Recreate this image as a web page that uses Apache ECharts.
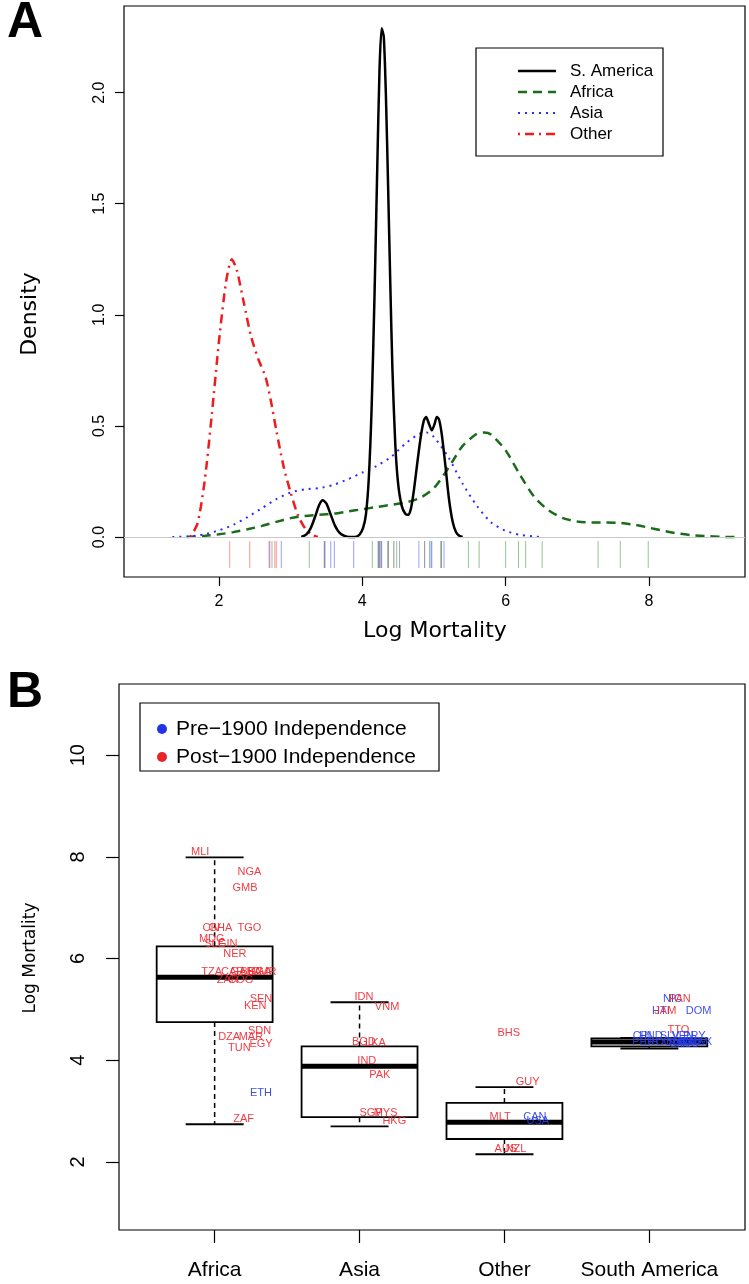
<!DOCTYPE html>
<html><head><meta charset="utf-8">
<script src="https://cdn.jsdelivr.net/npm/echarts@6/dist/echarts.min.js"></script>
<style>html,body{margin:0;padding:0;background:#fff}#c{width:749px;height:1284px}</style>
</head><body><div id="c"></div>
<script>
// ---------- Panel A: density curves (x = log mortality, y = density) ----------
const densSAm = [[3.15,0],[3.22,0.012],[3.28,0.04],[3.34,0.09],[3.40,0.145],[3.45,0.165],[3.50,0.15],[3.56,0.10],[3.62,0.05],[3.68,0.02],[3.75,0.005],[3.82,0.0],[3.90,0.0],[3.96,0.01],[4.01,0.04],[4.05,0.10],[4.09,0.26],[4.13,0.58],[4.17,1.08],[4.21,1.68],[4.24,2.10],[4.27,2.29],[4.30,2.25],[4.33,1.98],[4.36,1.58],[4.39,1.15],[4.42,0.76],[4.46,0.42],[4.50,0.24],[4.55,0.14],[4.60,0.105],[4.64,0.10],[4.68,0.13],[4.72,0.21],[4.77,0.34],[4.82,0.46],[4.86,0.525],[4.89,0.54],[4.93,0.51],[4.97,0.48],[5.01,0.51],[5.04,0.54],[5.07,0.53],[5.11,0.46],[5.16,0.32],[5.21,0.17],[5.26,0.07],[5.31,0.02],[5.36,0.004],[5.40,0]];
const densAfrica = [[1.55,0],[1.8,0.005],[2.0,0.012],[2.2,0.022],[2.4,0.035],[2.6,0.05],[2.8,0.068],[3.0,0.085],[3.2,0.095],[3.4,0.10],[3.6,0.105],[3.8,0.115],[4.0,0.125],[4.2,0.135],[4.4,0.145],[4.6,0.155],[4.8,0.175],[5.0,0.22],[5.2,0.31],[5.4,0.41],[5.6,0.465],[5.7,0.47],[5.8,0.46],[6.0,0.39],[6.2,0.28],[6.4,0.18],[6.6,0.12],[6.8,0.085],[7.0,0.07],[7.2,0.065],[7.4,0.065],[7.6,0.063],[7.8,0.055],[8.0,0.042],[8.2,0.028],[8.4,0.016],[8.6,0.008],[8.8,0.004],[9.0,0.001],[9.2,0]];
const densAsia = [[1.35,0],[1.6,0.003],[1.8,0.012],[2.0,0.03],[2.2,0.055],[2.4,0.09],[2.6,0.13],[2.8,0.17],[3.0,0.20],[3.2,0.215],[3.4,0.22],[3.6,0.235],[3.8,0.26],[4.0,0.29],[4.2,0.32],[4.4,0.36],[4.6,0.42],[4.8,0.465],[4.9,0.47],[5.0,0.45],[5.2,0.36],[5.4,0.24],[5.6,0.14],[5.8,0.065],[6.0,0.028],[6.2,0.01],[6.4,0.002],[6.5,0]];
const densOther = [[1.6,0],[1.7,0.06],[1.8,0.25],[1.9,0.55],[2.0,0.88],[2.1,1.15],[2.18,1.25],[2.25,1.20],[2.35,1.05],[2.45,0.90],[2.55,0.80],[2.65,0.72],[2.72,0.62],[2.8,0.48],[2.9,0.32],[3.0,0.20],[3.1,0.10],[3.2,0.04],[3.3,0.01],[3.38,0]];

// rug values under the density curves
const rugSAm = [3.47,4.23,4.26,4.36,4.44,4.87,5.10];
const rugAfrica = [2.74,3.26,4.14,4.22,4.36,4.48,4.96,5.10,5.48,5.63,6.00,6.18,6.28,6.51,7.29,7.60,7.99];
const rugAsia = [2.70,2.87,3.48,3.56,3.61,3.88,4.24,4.27,4.52,4.79,4.94,4.97,5.14];
const rugOther = [2.15,2.43,2.71,2.78,2.80];

const densNames = ['S. America','Africa','Asia','Other'];
const xTicksA = [2,4,6,8];
const yTicksA = [0,0.5,1.0,1.5,2.0];

// ---------- Panel B: boxplots ----------
const boxCats = ['Africa','Asia','Other','South America'];
// [min, Q1, median, Q3, max]
const statAfrica = [2.74,4.75,5.63,6.24,7.99];
const statAsia = [2.70,2.88,3.88,4.27,5.14];
const statOther = [2.15,2.45,2.78,3.16,3.47];
const statSAm = [4.23,4.27,4.36,4.43,4.44];
const yTicksB = [2,4,6,8,10];

// country labels: code, group index, horizontal jitter (category units), log mortality, pre-1900 independence
const labCode   = ['MLI','NGA','GMB','CIV','GHA','TGO','MDG','SLE','GIN','NER','TZA','CAF','GAB','BFA','UGA','CMR','ZAR','COG','SEN','KEN','SDN','DZA','MAR','EGY','TUN','ETH','ZAF',
                   'IDN','VNM','BGD','LKA','IND','PAK','SGP','MYS','HKG',
                   'BHS','GUY','MLT','CAN','USA','AUS','NZL',
                   'NIC','PAN','HTI','JAM','DOM','TTO','CRI','HND','SLV','VEN','PRY','PER','URY','COL','BOL','BRA','ECU','GTM','MEX','ARG','CHL'];
const labGroup  = [0,0,0,0,0,0,0,0,0,0,0,0,0,0,0,0,0,0,0,0,0,0,0,0,0,0,0,
                   1,1,1,1,1,1,1,1,1,
                   2,2,2,2,2,2,2,
                   3,3,3,3,3,3,3,3,3,3,3,3,3,3,3,3,3,3,3,3,3];
const labJitter = [-0.10,0.24,0.21,-0.02,0.04,0.24,-0.02,0.0,0.09,0.14,-0.02,0.12,0.19,0.25,0.31,0.34,0.09,0.18,0.32,0.28,0.31,0.10,0.25,0.32,0.17,0.32,0.20,
                   0.03,0.19,0.03,0.11,0.05,0.14,0.08,0.18,0.24,
                   0.03,0.16,-0.03,0.21,0.23,0.01,0.08,
                   0.16,0.21,0.08,0.11,0.34,0.20,-0.05,0.01,0.14,0.23,0.31,-0.04,0.04,0.12,0.19,0.24,0.28,0.32,0.35,0.26,0.21];
const labValue  = [7.99,7.60,7.29,6.51,6.51,6.51,6.28,6.18,6.18,6.00,5.63,5.63,5.63,5.63,5.63,5.63,5.48,5.48,5.10,4.96,4.48,4.36,4.36,4.22,4.14,3.26,2.74,
                   5.14,4.94,4.27,4.24,3.88,3.61,2.87,2.87,2.70,
                   4.44,3.47,2.79,2.78,2.71,2.15,2.15,
                   5.10,5.10,4.87,4.87,4.87,4.50,4.38,4.38,4.38,4.38,4.38,4.26,4.26,4.26,4.26,4.26,4.26,4.26,4.26,4.23,4.23];
const labPre1900 = [0,0,0,0,0,0,0,0,0,0,0,0,0,0,0,0,0,0,0,0,0,0,0,0,0,1,0,
                    0,0,0,0,0,0,0,0,0,
                    0,0,0,1,1,0,0,
                    1,0,1,0,1,0,1,1,1,1,1,1,1,1,1,1,1,1,1,1,1];
const legendB = ['Pre\u22121900 Independence','Post\u22121900 Independence'];

// ---------- styles ----------
const FONT = 'Liberation Sans, Arial, sans-serif';
const TFONT = 'DejaVu Sans, sans-serif';
const colSAm = '#000000', colAfr = '#1a6b1a', colAsia = '#2a2aff', colOth = '#ee1c1c';
const colRed = 'rgba(238,40,48,0.9)', colBlue = 'rgba(40,60,235,0.9)';

const chart = echarts.init(document.getElementById('c'), null, {renderer:'canvas'});

function rugSeries(vals, color){
  return {type:'custom', xAxisIndex:0, yAxisIndex:0, silent:true, z:1,
    data: vals.map(v=>[v,0]), encode:{x:0,y:1},
    renderItem:(p,api)=>{const c=api.coord([api.value(0),0]);
      return {type:'line', shape:{x1:c[0],y1:c[1]+4,x2:c[0],y2:c[1]+31}, style:{stroke:color,lineWidth:1,opacity:0.5}};}};
}
function lineSeries(name,data,color,width,dash){
  return {name, type:'line', xAxisIndex:0, yAxisIndex:0, data, showSymbol:false, symbol:'none', smooth:0.25, z:3,
    lineStyle:{color, width, type:dash}};
}
function renderBox(params, api){
  const x=api.value(0), mn=api.value(1), q1=api.value(2), md=api.value(3), q3=api.value(4), mx=api.value(5);
  const hw=api.size([0.4,0])[0], cw=api.size([0.2,0])[0];
  const pMn=api.coord([x,mn]), pQ1=api.coord([x,q1]), pMd=api.coord([x,md]), pQ3=api.coord([x,q3]), pMx=api.coord([x,mx]);
  const cx=pMd[0];
  const st={stroke:'#000',lineWidth:1.8,fill:null};
  const ds={stroke:'#000',lineWidth:1.5,lineDash:[5,4],fill:null};
  return {type:'group', children:[
    {type:'line', shape:{x1:cx,y1:pQ3[1],x2:cx,y2:pMx[1]}, style:ds},
    {type:'line', shape:{x1:cx,y1:pQ1[1],x2:cx,y2:pMn[1]}, style:ds},
    {type:'line', shape:{x1:cx-cw,y1:pMx[1],x2:cx+cw,y2:pMx[1]}, style:st},
    {type:'line', shape:{x1:cx-cw,y1:pMn[1],x2:cx+cw,y2:pMn[1]}, style:st},
    {type:'rect', shape:{x:cx-hw,y:pQ3[1],width:2*hw,height:pQ1[1]-pQ3[1]}, style:{stroke:'#000',lineWidth:1.8,fill:null}},
    {type:'line', shape:{x1:cx-hw,y1:pMd[1],x2:cx+hw,y2:pMd[1]}, style:{stroke:'#000',lineWidth:5}}
  ]};
}

const stats = [statAfrica, statAsia, statOther, statSAm];

const option = {
  backgroundColor:'#fff',
  animation:false,
  grid:[
    {left:124, top:6, width:621, height:571, show:true, borderColor:'#000', borderWidth:1.2, backgroundColor:'transparent'},
    {left:119, top:684, width:626, height:546, show:true, borderColor:'#000', borderWidth:1.2, backgroundColor:'transparent'}
  ],
  xAxis:[
    {type:'value', gridIndex:0, position:'bottom', min:0.675, max:9.34, axisLine:{show:false, onZero:false}, splitLine:{show:false},
     axisTick:{show:true, length:9, lineStyle:{color:'#000',width:1.2}, customValues:xTicksA},
     axisLabel:{show:true, margin:17, fontSize:16, color:'#000', fontFamily:FONT, customValues:xTicksA, formatter:v=>String(v)}},
    {type:'value', gridIndex:1, position:'bottom', min:0.34, max:4.66, axisLine:{show:false, onZero:false}, splitLine:{show:false},
     axisTick:{show:true, length:13, lineStyle:{color:'#000',width:1.2}, customValues:[1,2,3,4]},
     axisLabel:{show:true, margin:30, fontSize:21, color:'#000', fontFamily:FONT, customValues:[1,2,3,4], formatter:v=>boxCats[Math.round(v)-1]}}
  ],
  yAxis:[
    {type:'value', gridIndex:0, position:'left', min:-0.18, max:2.39, axisLine:{show:false, onZero:false}, splitLine:{show:false},
     axisTick:{show:true, length:9, lineStyle:{color:'#000',width:1.2}, customValues:yTicksA},
     axisLabel:{show:true, rotate:90, margin:16, fontSize:16, color:'#000', fontFamily:FONT, customValues:yTicksA, formatter:v=>v.toFixed(1)}},
    {type:'value', gridIndex:1, position:'left', min:0.66, max:11.4, axisLine:{show:false, onZero:false}, splitLine:{show:false},
     axisTick:{show:true, length:13, lineStyle:{color:'#000',width:1.2}, customValues:yTicksB},
     axisLabel:{show:true, rotate:90, margin:31, fontSize:20, color:'#000', fontFamily:FONT, customValues:yTicksB, formatter:v=>String(v)}}
  ],
  series:[
    {type:'line', xAxisIndex:0, yAxisIndex:0, data:[], silent:true, z:1,
     markLine:{silent:true, symbol:'none', label:{show:false}, lineStyle:{color:'#c8c8c8', width:1, type:'solid'}, data:[{yAxis:0}]}},
    rugSeries(rugAfrica, '#2e8b2e'),
    rugSeries(rugAsia, '#3344ff'),
    rugSeries(rugOther, '#ff3030'),
    rugSeries(rugSAm, '#222222'),
    lineSeries(densNames[1], densAfrica, colAfr, 2.5, [9,6]),
    lineSeries(densNames[2], densAsia, colAsia, 2, [2,5]),
    lineSeries(densNames[3], densOther, colOth, 2.5, [2,5,9,5]),
    lineSeries(densNames[0], densSAm, colSAm, 2.5, 'solid'),
    {type:'custom', xAxisIndex:1, yAxisIndex:1, silent:true, z:2,
     data: stats.map((s,i)=>[i+1, ...s]), encode:{x:0, y:[1,2,3,4,5]}, renderItem:renderBox},
    {type:'custom', xAxisIndex:1, yAxisIndex:1, silent:true, z:5,
     data: labValue.map((v,i)=>[labGroup[i]+1+labJitter[i], v]), encode:{x:0,y:1},
     renderItem:(p,api)=>{const c=api.coord([api.value(0),api.value(1)]); const i=p.dataIndex;
       return {type:'text', x:c[0], y:c[1]-5, style:{text:labCode[i], fill:labPre1900[i]?colBlue:colRed,
         font:'11px '+FONT, align:'center', verticalAlign:'middle'}};}}
  ],
  graphic:[
    {type:'text', left:7, top:-2, style:{text:'A', font:'bold 50px '+FONT, fill:'#000'}},
    {type:'text', left:7, top:668, style:{text:'B', font:'bold 50px '+FONT, fill:'#000'}},
    {type:'text', x:30, y:314, rotation:Math.PI/2, style:{text:'Density', font:'22px '+TFONT, fill:'#000', align:'center', verticalAlign:'middle'}},
    {type:'text', x:435, y:631, style:{text:'Log Mortality', font:'22px '+TFONT, fill:'#000', align:'center', verticalAlign:'middle'}},
    {type:'text', x:31, y:958, rotation:Math.PI/2, style:{text:'Log Mortality', font:'17px '+TFONT, fill:'#000', align:'center', verticalAlign:'middle'}},
    // legend A
    {type:'rect', shape:{x:476, y:48, width:187, height:108}, style:{stroke:'#000', lineWidth:1.2, fill:'#fff'}, z:10},
    {type:'line', shape:{x1:518,y1:71,x2:556,y2:71}, style:{stroke:colSAm, lineWidth:2.5}, z:11},
    {type:'line', shape:{x1:518,y1:92,x2:556,y2:92}, style:{stroke:colAfr, lineWidth:2.5, lineDash:[9,6]}, z:11},
    {type:'line', shape:{x1:518,y1:113,x2:556,y2:113}, style:{stroke:colAsia, lineWidth:2, lineDash:[2,5]}, z:11},
    {type:'line', shape:{x1:518,y1:134,x2:556,y2:134}, style:{stroke:colOth, lineWidth:2.5, lineDash:[2,5,9,5]}, z:11},
    {type:'text', x:570, y:71, style:{text:densNames[0], font:'17px '+FONT, fill:'#000', verticalAlign:'middle'}, z:11},
    {type:'text', x:570, y:92, style:{text:densNames[1], font:'17px '+FONT, fill:'#000', verticalAlign:'middle'}, z:11},
    {type:'text', x:570, y:113, style:{text:densNames[2], font:'17px '+FONT, fill:'#000', verticalAlign:'middle'}, z:11},
    {type:'text', x:570, y:134, style:{text:densNames[3], font:'17px '+FONT, fill:'#000', verticalAlign:'middle'}, z:11},
    // legend B
    {type:'rect', shape:{x:140, y:703, width:299, height:68}, style:{stroke:'#000', lineWidth:1.2, fill:'#fff'}, z:10},
    {type:'circle', shape:{cx:162, cy:729, r:5}, style:{fill:'#2233e6'}, z:11},
    {type:'circle', shape:{cx:162, cy:757, r:5}, style:{fill:'#e8232a'}, z:11},
    {type:'text', x:176, y:729, style:{text:legendB[0], font:'21px '+FONT, fill:'#000', verticalAlign:'middle'}, z:11},
    {type:'text', x:176, y:757, style:{text:legendB[1], font:'21px '+FONT, fill:'#000', verticalAlign:'middle'}, z:11}
  ]
};
chart.setOption(option);
</script>
</body></html>
